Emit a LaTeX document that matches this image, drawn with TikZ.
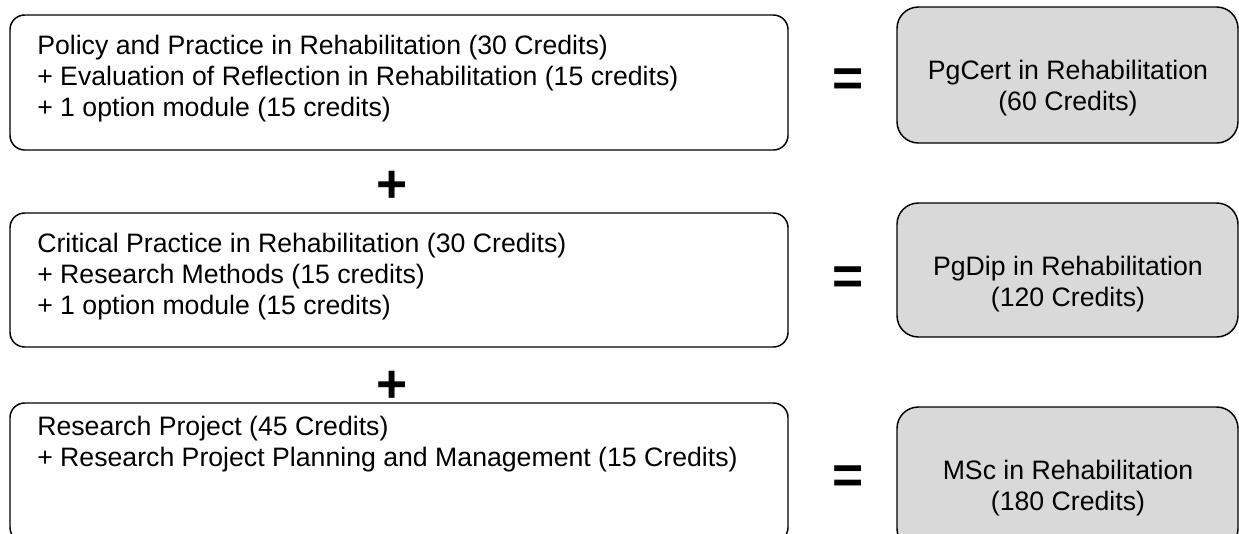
\documentclass[tikz,border=0pt]{standalone}
\usepackage{fontspec}
\setmainfont{Liberation Sans}
\usetikzlibrary{positioning}
\definecolor{awardgray}{RGB}{217,217,217}

\begin{document}
\begin{tikzpicture}[x=0.75pt,y=-0.75pt,
  modbox/.style={draw,line width=1.1pt,rounded corners=11pt},
  awardbox/.style={draw,fill=awardgray,line width=1.1pt,rounded corners=16pt},
  modtext/.style={anchor=north west,align=left,inner sep=0pt,font=\fontsize{20}{23.25}\selectfont},
  awardtext/.style={anchor=north,align=center,inner sep=0pt,font=\fontsize{20}{23.25}\selectfont},
  opsign/.style={inner sep=0pt,font=\fontsize{40}{40}\selectfont\bfseries}]

\useasboundingbox (0,0) rectangle (1239,533);

% modules, left column
\draw[modbox] (10,15) rectangle (788,150);
\node[modtext] (pptext) at (37,35) {Policy and Practice in Rehabilitation (30 Credits)\\+ Evaluation of Reflection in Rehabilitation (15 credits)\\+ 1 option module (15 credits)};

\draw[modbox] (10,213) rectangle (788,347);
\node[modtext] (cptext) at (37,233) {Critical Practice in Rehabilitation (30 Credits)\\+ Research Methods (15 credits)\\+ 1 option module (15 credits)};

\draw[modbox] (10,403) rectangle (788,542);
\node[modtext] (rptext) at (37,416) {Research Project (45 Credits)\\+ Research Project Planning and Management (15 Credits)};

\node[opsign] (plusa) at (392,187) {+};
\node[opsign] (plusb) at (392,387) {+};

% awards, right column
\node[opsign] (eqa) at (848,83) {=};
\node[opsign] (eqb) at (848,281) {=};
\node[opsign] (eqc) at (848,480) {=};

\draw[awardbox] (897,7) rectangle (1238,143);
\node[awardtext] (pgcert) at (1068,60) {PgCert in Rehabilitation\\(60 Credits)};

\draw[awardbox] (897,203) rectangle (1238,337);
\node[awardtext] (pgdip) at (1068,256) {PgDip in Rehabilitation\\(120 Credits)};

\draw[awardbox] (897,407) rectangle (1238,550);
\node[awardtext] (msc) at (1068,460) {MSc in Rehabilitation\\(180 Credits)};

\end{tikzpicture}
\end{document}
